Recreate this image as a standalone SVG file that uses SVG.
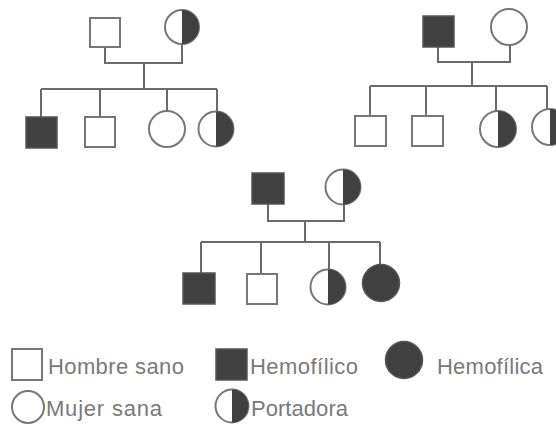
<svg xmlns="http://www.w3.org/2000/svg" width="556" height="425" viewBox="0 0 556 425">
<style>
.bg{fill:#fff}
.open{fill:#fff;stroke:#777;stroke-width:2}
.aff{fill:#404040;stroke:#555;stroke-width:1.5}
.half{fill:#404040}
.ln{fill:none;stroke:#6a6a6a;stroke-width:2}
.lbl{font-family:"Liberation Sans",Arial,sans-serif;font-size:22px;fill:#7a7a7a}
</style>
<rect class="bg" width="556" height="425"/>
<g id="connectors">
<path class="ln" d="M105,47V63H182V45 M144,63V89 M41,89H217 M41,89V117 M100,89V116 M167,89V111 M217,89V111"/>
<path class="ln" d="M438,47V62H510V45 M472,62V86 M370,86H547 M370,86V116 M426,86V116 M496,86V111 M547,86V109"/>
<path class="ln" d="M268,204V221H344V205 M305,221V242 M201,242H380 M201,242V273 M261,242V274 M329,242V270 M380,242V265"/>
</g>
<g id="p1-father"><rect class="open" x="90" y="18" width="30" height="29"/></g>
<g id="p1-mother"><circle class="open" cx="182" cy="27" r="17"/><path class="half" d="M182,10A17,17 0 0 1 182,44Z"/></g>
<g id="p1-son1"><rect class="aff" x="26" y="117" width="31" height="31"/></g>
<g id="p1-son2"><rect class="open" x="85" y="117" width="30" height="30"/></g>
<g id="p1-daughter1"><circle class="open" cx="167" cy="129" r="18"/></g>
<g id="p1-daughter2"><circle class="open" cx="216" cy="129" r="17.5"/><path class="half" d="M216,111.5A17.5,17.5 0 0 1 216,146.5Z"/></g>
<g id="p2-father"><rect class="aff" x="423" y="16" width="31" height="31"/></g>
<g id="p2-mother"><circle class="open" cx="509" cy="27" r="18"/></g>
<g id="p2-son1"><rect class="open" x="355" y="116" width="31" height="30"/></g>
<g id="p2-son2"><rect class="open" x="412" y="116" width="31" height="30"/></g>
<g id="p2-daughter1"><circle class="open" cx="498" cy="129" r="18"/><path class="half" d="M498,111A18,18 0 0 1 498,147Z"/></g>
<g id="p2-daughter2"><circle class="open" cx="550" cy="127" r="18"/><path class="half" d="M550,109A18,18 0 0 1 550,145Z"/></g>
<g id="p3-father"><rect class="aff" x="252" y="173" width="32" height="31"/></g>
<g id="p3-mother"><circle class="open" cx="343" cy="187" r="17.5"/><path class="half" d="M343,169.5A17.5,17.5 0 0 1 343,204.5Z"/></g>
<g id="p3-son1"><rect class="aff" x="183" y="273" width="32" height="31"/></g>
<g id="p3-son2"><rect class="open" x="247" y="274" width="30" height="30"/></g>
<g id="p3-daughter1"><circle class="open" cx="328" cy="287" r="17.5"/><path class="half" d="M328,269.5A17.5,17.5 0 0 1 328,304.5Z"/></g>
<g id="p3-daughter2"><circle class="aff" cx="381" cy="283" r="18.5"/></g>
<g id="legend-hombre-sano"><rect class="open" x="12" y="349" width="30" height="31"/><text class="lbl" x="48" y="374" textLength="136">Hombre sano</text></g>
<g id="legend-hemofilico"><rect class="aff" x="216" y="349" width="31" height="31"/><text class="lbl" x="250" y="374" textLength="108">Hemofílico</text></g>
<g id="legend-hemofilica"><circle class="aff" cx="404" cy="360" r="18.5"/><text class="lbl" x="437" y="374" textLength="106">Hemofílica</text></g>
<g id="legend-mujer-sana"><circle class="open" cx="28" cy="407" r="16"/><text class="lbl" x="46" y="416" textLength="116">Mujer sana</text></g>
<g id="legend-portadora"><circle class="open" cx="232" cy="406" r="16.5"/><path class="half" d="M232,389.5A16.5,16.5 0 0 1 232,422.5Z"/><text class="lbl" x="251" y="416" textLength="97">Portadora</text></g>
</svg>
